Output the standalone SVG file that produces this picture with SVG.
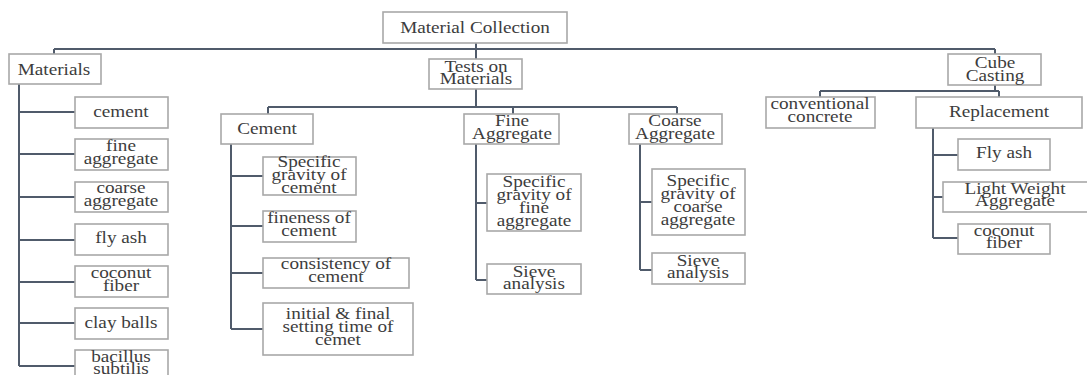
<svg xmlns="http://www.w3.org/2000/svg" width="1087" height="375" viewBox="0 0 1087 375">
<style>
.b{fill:#fff;stroke:#a8a8a8;stroke-width:1.6}
.t{font-family:'Liberation Serif','DejaVu Serif','Times New Roman',serif;font-size:16px;fill:#3d3d3d;text-anchor:middle}
.c{fill:none;stroke:#505b6b;stroke-width:2}
</style>
<rect width="1087" height="375" fill="#fff"/>
<g id="connectors" class="c">
<path d="M476 43V49M54 49H995M54 49V54M476 49V59M995 49V54"/>
<path d="M19 84V366M19 112H75M19 154H75M19 197H75M19 240H75M19 282H75M19 323H75M19 366H75"/>
<path d="M476 89V107M268 107H677M268 107V114M513 107V114M677 107V114"/>
<path d="M231 144V329M231 176H263M231 226H263M231 273H263M231 329H263"/>
<path d="M476 144V280M476 203H487M476 280H487"/>
<path d="M640 144V270M640 202H652M640 270H652"/>
<path d="M995 85V91M820 91H999M820 91V97M999 91V97"/>
<path d="M933 128V238M933 155H958M933 197H943M933 238H958"/>
</g>
<g id="root"><rect class="b" x="383" y="12" width="184" height="31"/><text class="t" transform="translate(475 0) scale(1.2 1)" y="33">Material Collection</text></g>
<g id="materials"><rect class="b" x="9" y="54" width="92" height="30"/><text class="t" transform="translate(54 0) scale(1.2 1)" y="75">Materials</text></g>
<g id="tests"><rect class="b" x="429" y="59" width="93" height="30"/><text class="t" transform="translate(476 0) scale(1.2 1)"><tspan x="0" y="72">Tests on</tspan><tspan x="0" y="84.5">Materials</tspan></text></g>
<g id="cube"><rect class="b" x="948" y="54" width="93" height="31"/><text class="t" transform="translate(995 0) scale(1.2 1)"><tspan x="0" y="68">Cube</tspan><tspan x="0" y="81">Casting</tspan></text></g>
<g id="m-cement"><rect class="b" x="75" y="97" width="93" height="31"/><text class="t" transform="translate(121 0) scale(1.2 1)" y="117">cement</text></g>
<g id="m-fine"><rect class="b" x="75" y="139" width="93" height="31"/><text class="t" transform="translate(121 0) scale(1.2 1)"><tspan x="0" y="151">fine</tspan><tspan x="0" y="164">aggregate</tspan></text></g>
<g id="m-coarse"><rect class="b" x="75" y="182" width="93" height="30"/><text class="t" transform="translate(121 0) scale(1.2 1)"><tspan x="0" y="193">coarse</tspan><tspan x="0" y="206">aggregate</tspan></text></g>
<g id="m-flyash"><rect class="b" x="75" y="224" width="93" height="31"/><text class="t" transform="translate(121 0) scale(1.2 1)" y="243">fly ash</text></g>
<g id="m-coconut"><rect class="b" x="75" y="266" width="93" height="31"/><text class="t" transform="translate(121 0) scale(1.2 1)"><tspan x="0" y="278">coconut</tspan><tspan x="0" y="291">fiber</tspan></text></g>
<g id="m-clay"><rect class="b" x="75" y="308" width="93" height="31"/><text class="t" transform="translate(121 0) scale(1.2 1)" y="328">clay balls</text></g>
<g id="m-bacillus"><rect class="b" x="75" y="350" width="93" height="34"/><text class="t" transform="translate(121 0) scale(1.2 1)"><tspan x="0" y="362">bacillus</tspan><tspan x="0" y="374">subtilis</tspan></text></g>
<g id="cement"><rect class="b" x="221" y="114" width="92" height="30"/><text class="t" transform="translate(267 0) scale(1.2 1)" y="134">Cement</text></g>
<g id="fine"><rect class="b" x="464" y="114" width="95" height="30"/><text class="t" transform="translate(512 0) scale(1.2 1)"><tspan x="0" y="126">Fine</tspan><tspan x="0" y="139">Aggregate</tspan></text></g>
<g id="coarse"><rect class="b" x="629" y="114" width="93" height="30"/><text class="t" transform="translate(675 0) scale(1.2 1)"><tspan x="0" y="126">Coarse</tspan><tspan x="0" y="139">Aggregate</tspan></text></g>
<g id="c-sg"><rect class="b" x="263" y="157" width="93" height="38"/><text class="t" transform="translate(309 0) scale(1.2 1)"><tspan x="0" y="167">Specific</tspan><tspan x="0" y="180">gravity of</tspan><tspan x="0" y="193">cement</tspan></text></g>
<g id="c-fineness"><rect class="b" x="263" y="211" width="93" height="31"/><text class="t" transform="translate(309 0) scale(1.2 1)"><tspan x="0" y="223">fineness of</tspan><tspan x="0" y="236">cement</tspan></text></g>
<g id="c-consistency"><rect class="b" x="263" y="258" width="146" height="30"/><text class="t" transform="translate(336 0) scale(1.2 1)"><tspan x="0" y="269">consistency of</tspan><tspan x="0" y="282">cement</tspan></text></g>
<g id="c-setting"><rect class="b" x="263" y="303" width="150" height="52"/><text class="t" transform="translate(338 0) scale(1.2 1)"><tspan x="0" y="319">initial &amp; final</tspan><tspan x="0" y="332">setting time of</tspan><tspan x="0" y="345">cemet</tspan></text></g>
<g id="f-sg"><rect class="b" x="487" y="174" width="94" height="57"/><text class="t" transform="translate(534 0) scale(1.2 1)"><tspan x="0" y="187">Specific</tspan><tspan x="0" y="200">gravity of</tspan><tspan x="0" y="213">fine</tspan><tspan x="0" y="226">aggregate</tspan></text></g>
<g id="f-sieve"><rect class="b" x="487" y="264" width="94" height="30"/><text class="t" transform="translate(534 0) scale(1.2 1)"><tspan x="0" y="277">Sieve</tspan><tspan x="0" y="289">analysis</tspan></text></g>
<g id="co-sg"><rect class="b" x="652" y="169" width="93" height="66"/><text class="t" transform="translate(698 0) scale(1.2 1)"><tspan x="0" y="186">Specific</tspan><tspan x="0" y="199">gravity of</tspan><tspan x="0" y="212">coarse</tspan><tspan x="0" y="225">aggregate</tspan></text></g>
<g id="co-sieve"><rect class="b" x="652" y="253" width="93" height="31"/><text class="t" transform="translate(698 0) scale(1.2 1)"><tspan x="0" y="266">Sieve</tspan><tspan x="0" y="278">analysis</tspan></text></g>
<g id="conventional"><rect class="b" x="766" y="97" width="109" height="31"/><text class="t" transform="translate(820 0) scale(1.2 1)"><tspan x="0" y="109">conventional</tspan><tspan x="0" y="122">concrete</tspan></text></g>
<g id="replacement"><rect class="b" x="916" y="97" width="166" height="31"/><text class="t" transform="translate(999 0) scale(1.2 1)" y="117">Replacement</text></g>
<g id="r-flyash"><rect class="b" x="958" y="139" width="92" height="31"/><text class="t" transform="translate(1004 0) scale(1.2 1)" y="158">Fly ash</text></g>
<g id="r-lwa"><rect class="b" x="943" y="182" width="146" height="30"/><text class="t" transform="translate(1015 0) scale(1.2 1)"><tspan x="0" y="194">Light  Weight</tspan><tspan x="0" y="206">Aggregate</tspan></text></g>
<g id="r-coconut"><rect class="b" x="958" y="224" width="92" height="30"/><text class="t" transform="translate(1004 0) scale(1.2 1)"><tspan x="0" y="236">coconut</tspan><tspan x="0" y="248">fiber</tspan></text></g>
</svg>
